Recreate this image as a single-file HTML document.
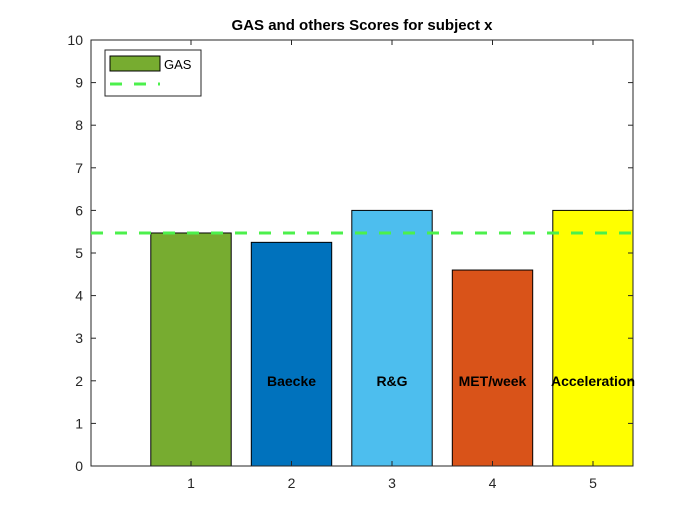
<!DOCTYPE html>
<html><head><meta charset="utf-8"><style>
body{margin:0;background:#fff;}
svg{display:block;font-family:"Liberation Sans",Arial,sans-serif;}
</style></head><body>
<svg id="chart" width="700" height="525" viewBox="0 0 700 525">
<rect width="700" height="525" fill="#fff"/>
<text x="362" y="30" text-anchor="middle" font-size="15" font-weight="bold">GAS and others Scores for subject x</text>
<g id="bars"></g>
<g id="axes"></g>
</svg>
<script>
const categories = [1, 2, 3, 4, 5];
const scores = [5.47, 5.25, 6.0, 4.6, 6.0];
const barLabels = ["", "Baecke", "R&G", "MET/week", "Acceleration"];
const barColors = ["#77AC30", "#0072BD", "#4DBEEE", "#D95319", "#FFFF00"];
const gasLevel = 5.47;
const yTicks = [0,1,2,3,4,5,6,7,8,9,10];
const labelY = 2;

const L=91,R=633,T=40,B=466,ymin=0,ymax=10;
const xs=v=>90.5+v*100.5;
const ys=v=>B-(v-ymin)/(ymax-ymin)*(B-T);
const NS="http://www.w3.org/2000/svg";
function mk(t,a,p){const e=document.createElementNS(NS,t);for(const k in a)e.setAttribute(k,a[k]);p.appendChild(e);return e;}
const svg=document.getElementById('chart');
const bars=document.getElementById('bars');
const axes=document.getElementById('axes');
const defs=mk('clipPath',{id:'clip'},svg);mk('rect',{x:L,y:T,width:R-L,height:B-T},defs);
bars.setAttribute('clip-path','url(#clip)');
categories.forEach((c,i)=>{
  const x0=xs(c-0.4),x1=xs(c+0.4);
  const r=mk('rect',{x:x0,y:ys(scores[i]),width:x1-x0,height:ys(0)-ys(scores[i]),fill:barColors[i],stroke:'#000','stroke-width':1},bars);
  
  
});
const ln=mk('line',{x1:L,x2:R,y1:ys(gasLevel),y2:ys(gasLevel),stroke:'#4CF04C','stroke-width':3,'stroke-dasharray':'12,12'},svg);


categories.forEach((c,i)=>{
  if(!barLabels[i])return;
  const t=mk('text',{x:xs(c),y:ys(labelY)+5,'text-anchor':'middle','font-size':14,'font-weight':'bold'},svg);
  t.textContent=barLabels[i];
  
  
});
mk('rect',{x:L,y:T,width:R-L,height:B-T,fill:'none',stroke:'#262626','stroke-width':1},axes);
yTicks.forEach(v=>{
  const y=ys(v);
  mk('line',{x1:L,x2:L+5,y1:y,y2:y,stroke:'#262626'},axes);
  mk('line',{x1:R,x2:R-5,y1:y,y2:y,stroke:'#262626'},axes);
  const t=mk('text',{x:L-8,y:y+5,'text-anchor':'end','font-size':14,fill:'#262626'},axes);
  t.textContent=v;
  
  
});
categories.forEach(c=>{
  const x=xs(c);
  mk('line',{x1:x,x2:x,y1:B,y2:B-5,stroke:'#262626'},axes);
  mk('line',{x1:x,x2:x,y1:T,y2:T+5,stroke:'#262626'},axes);
  const t=mk('text',{x:x,y:B+22,'text-anchor':'middle','font-size':14,fill:'#262626'},axes);
  t.textContent=c;
  
  
});
const lg=mk('g',{},svg);


mk('rect',{x:105,y:50,width:96,height:46,fill:'#fff',stroke:'#262626'},lg);
mk('rect',{x:110,y:56,width:50,height:15,fill:'#77AC30',stroke:'#000'},lg);
const lt=mk('text',{x:164,y:69,'font-size':13,fill:'#000'},lg);lt.textContent='GAS';


mk('line',{x1:110,x2:160,y1:84,y2:84,stroke:'#4CF04C','stroke-width':3,'stroke-dasharray':'12,12'},lg);
</script>
</body></html>
